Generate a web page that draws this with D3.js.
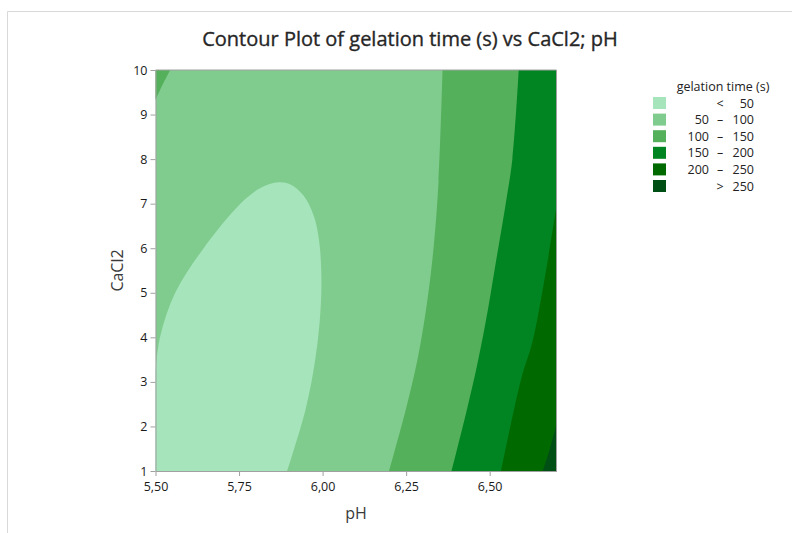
<!DOCTYPE html>
<html>
<head>
<script src="https://d3js.org/d3.v7.min.js"></script>
<style>
  body { margin: 0; background: #fff; }
  text { font-family: "Open Sans", "Noto Sans", sans-serif; }
</style>
</head>
<body>
<div id="chart"></div>
<script>
const w = 792, h = 533
const margin = {left: 155.5, right: 556.5, top: 70, bottom: 471}

// contour boundaries, as [pH, CaCl2]
const contour50 = [[5.5, 3.25], [5.514, 4.02], [5.559, 5.0], [5.643, 5.99], [5.754, 7.0],
  [5.814, 7.35], [5.868, 7.48], [5.904, 7.43], [5.944, 7.17], [5.974, 6.72], [5.989, 6.2],
  [5.996, 5.5], [5.994, 4.63], [5.978, 3.5], [5.949, 2.38], [5.894, 1.0]]
const contour100 = [[6.199, 1], [6.249, 2.38], [6.284, 3.5], [6.312, 4.75], [6.332, 6.0],
  [6.347, 7.5], [6.359, 10]]
const contour150 = [[6.386, 1], [6.432, 2.38], [6.466, 3.5], [6.495, 4.63], [6.52, 5.75],
  [6.548, 7.0], [6.568, 8.0], [6.587, 10]]
const contour200 = [[6.534, 1], [6.594, 3.06], [6.628, 3.9], [6.664, 5.3], [6.7, 6.94]]
const contour250 = [[6.659, 1], [6.68, 1.5], [6.7, 2.05]]
const cornerTopLeft = [[5.5, 9.33], [5.52, 9.65], [5.544, 10]]

const levelLabels = [['', '<', '50'], ['50', '–', '100'], ['100', '–', '150'],
  ['150', '–', '200'], ['200', '–', '250'], ['', '>', '250']]
const levelColors = ['#a6e4bb', '#80cc8e', '#55b05b', '#008522', '#006a00', '#004f14']

const xTicks = [5.5, 5.75, 6.0, 6.25, 6.5]
const yTicks = [1, 2, 3, 4, 5, 6, 7, 8, 9, 10]

const svg = d3.select('#chart').append('svg')
  .attr('width', w).attr('height', h)

// outer frame lines
svg.append('line').attr('x1', 7.5).attr('x2', w).attr('y1', 11.5).attr('y2', 11.5)
  .attr('stroke', '#d9d9d9').attr('stroke-width', 1)
svg.append('line').attr('x1', 7.5).attr('x2', 7.5).attr('y1', 11.5).attr('y2', h)
  .attr('stroke', '#d9d9d9').attr('stroke-width', 1)

const xScale = d3.scaleLinear().domain([5.5, 6.7]).range([margin.left, margin.right])
const yScale = d3.scaleLinear().domain([1, 10]).range([margin.bottom, margin.top])

svg.append('clipPath').attr('id', 'plotclip').append('rect')
  .attr('x', margin.left).attr('y', margin.top)
  .attr('width', margin.right - margin.left).attr('height', margin.bottom - margin.top)

const plot = svg.append('g').attr('clip-path', 'url(#plotclip)')

const line = d3.line().x(d => xScale(d[0])).y(d => yScale(d[1])).curve(d3.curveCatmullRom)
const region = (pts, closing) => line(pts) + closing.map(p => 'L' + xScale(p[0]) + ',' + yScale(p[1])).join('') + 'Z'

// base level 50-100
plot.append('rect')
  .attr('x', margin.left).attr('y', margin.top)
  .attr('width', margin.right - margin.left).attr('height', margin.bottom - margin.top)
  .attr('fill', levelColors[1])

const layers = [
  {pts: contour100, close: [[6.75, 10.2], [6.75, 0.8], [6.199, 0.8]], c: levelColors[2]},
  {pts: contour150, close: [[6.75, 10.2], [6.75, 0.8], [6.386, 0.8]], c: levelColors[3]},
  {pts: contour200, close: [[6.75, 6.94], [6.75, 0.8], [6.534, 0.8]], c: levelColors[4]},
  {pts: contour250, close: [[6.75, 2.05], [6.75, 0.8], [6.659, 0.8]], c: levelColors[5]},
  {pts: contour50, close: [[5.894, 0.8], [5.45, 0.8], [5.45, 3.25]], c: levelColors[0]},
  {pts: cornerTopLeft, close: [[5.544, 10.2], [5.45, 10.2], [5.45, 9.33]], c: levelColors[2]}
]

plot.selectAll('path.level')
  .data(layers)
  .enter()
  .append('path')
  .attr('class', 'level')
  .attr('d', d => region(d.pts, d.close))
  .attr('fill', d => d.c)

// plot frame top/right
svg.append('path')
  .attr('d', `M${margin.left},${margin.top}H${margin.right}V${margin.bottom}`)
  .attr('fill', 'none').attr('stroke', '#a0a0a0')

const xAxis = d3.axisBottom(xScale).tickValues(xTicks).tickSize(5).tickSizeOuter(0)
  .tickFormat(d => d3.format('.2f')(d).replace('.', ','))
const yAxis = d3.axisLeft(yScale).tickValues(yTicks).tickSize(5).tickSizeOuter(0)
  .tickFormat(d3.format('d'))

const gx = svg.append('g').attr('transform', `translate(0,${margin.bottom})`).call(xAxis)
const gy = svg.append('g').attr('transform', `translate(${margin.left},0)`).call(yAxis)

;[gx, gy].forEach(g => {
  g.select('.domain').attr('stroke', '#a0a0a0')
  g.selectAll('.tick line').attr('stroke', '#a0a0a0')
  g.selectAll('.tick text').attr('fill', '#1a1a1a').style('font-size', '12.5px')
    .style('font-family', '"Open Sans", sans-serif')
})
gx.selectAll('.tick text').attr('dy', '0.95em')

svg.append('text')
  .attr('x', 410).attr('y', 46)
  .attr('text-anchor', 'middle')
  .style('font-size', '20px')
  .attr('fill', '#262626')
  .attr('stroke', '#262626')
  .attr('stroke-width', 0.35)
  .text('Contour Plot of gelation time (s) vs CaCl2; pH')

svg.append('text')
  .attr('x', (margin.left + margin.right) / 2).attr('y', 519)
  .attr('text-anchor', 'middle')
  .style('font-size', '16px')
  .attr('fill', '#3a3a3a')
  .text('pH')

svg.append('text')
  .attr('transform', `translate(123,${(margin.top + margin.bottom) / 2}) rotate(-90)`)
  .attr('text-anchor', 'middle')
  .style('font-size', '16px')
  .attr('fill', '#3a3a3a')
  .text('CaCl2')

// legend
const legend = svg.append('g')
legend.append('text')
  .attr('x', 723).attr('y', 91)
  .attr('text-anchor', 'middle')
  .style('font-size', '12.5px')
  .attr('fill', '#222')
  .text('gelation time (s)')

const rows = legend.selectAll('g.row')
  .data(levelLabels)
  .enter()
  .append('g')
  .attr('class', 'row')
  .attr('transform', (d, i) => `translate(0,${103 + i * 16.6})`)

rows.append('rect')
  .attr('x', 653).attr('y', -6)
  .attr('width', 13).attr('height', 12)
  .attr('fill', (d, i) => levelColors[i])

rows.append('text').attr('x', 709).attr('y', 4.5).attr('text-anchor', 'end')
  .style('font-size', '12.5px').attr('fill', '#222').text(d => d[0])
rows.append('text').attr('x', 720).attr('y', 4.5).attr('text-anchor', 'middle')
  .style('font-size', '12.5px').attr('fill', '#222').text(d => d[1])
rows.append('text').attr('x', 754).attr('y', 4.5).attr('text-anchor', 'end')
  .style('font-size', '12.5px').attr('fill', '#222').text(d => d[2])
</script>
</body>
</html>
